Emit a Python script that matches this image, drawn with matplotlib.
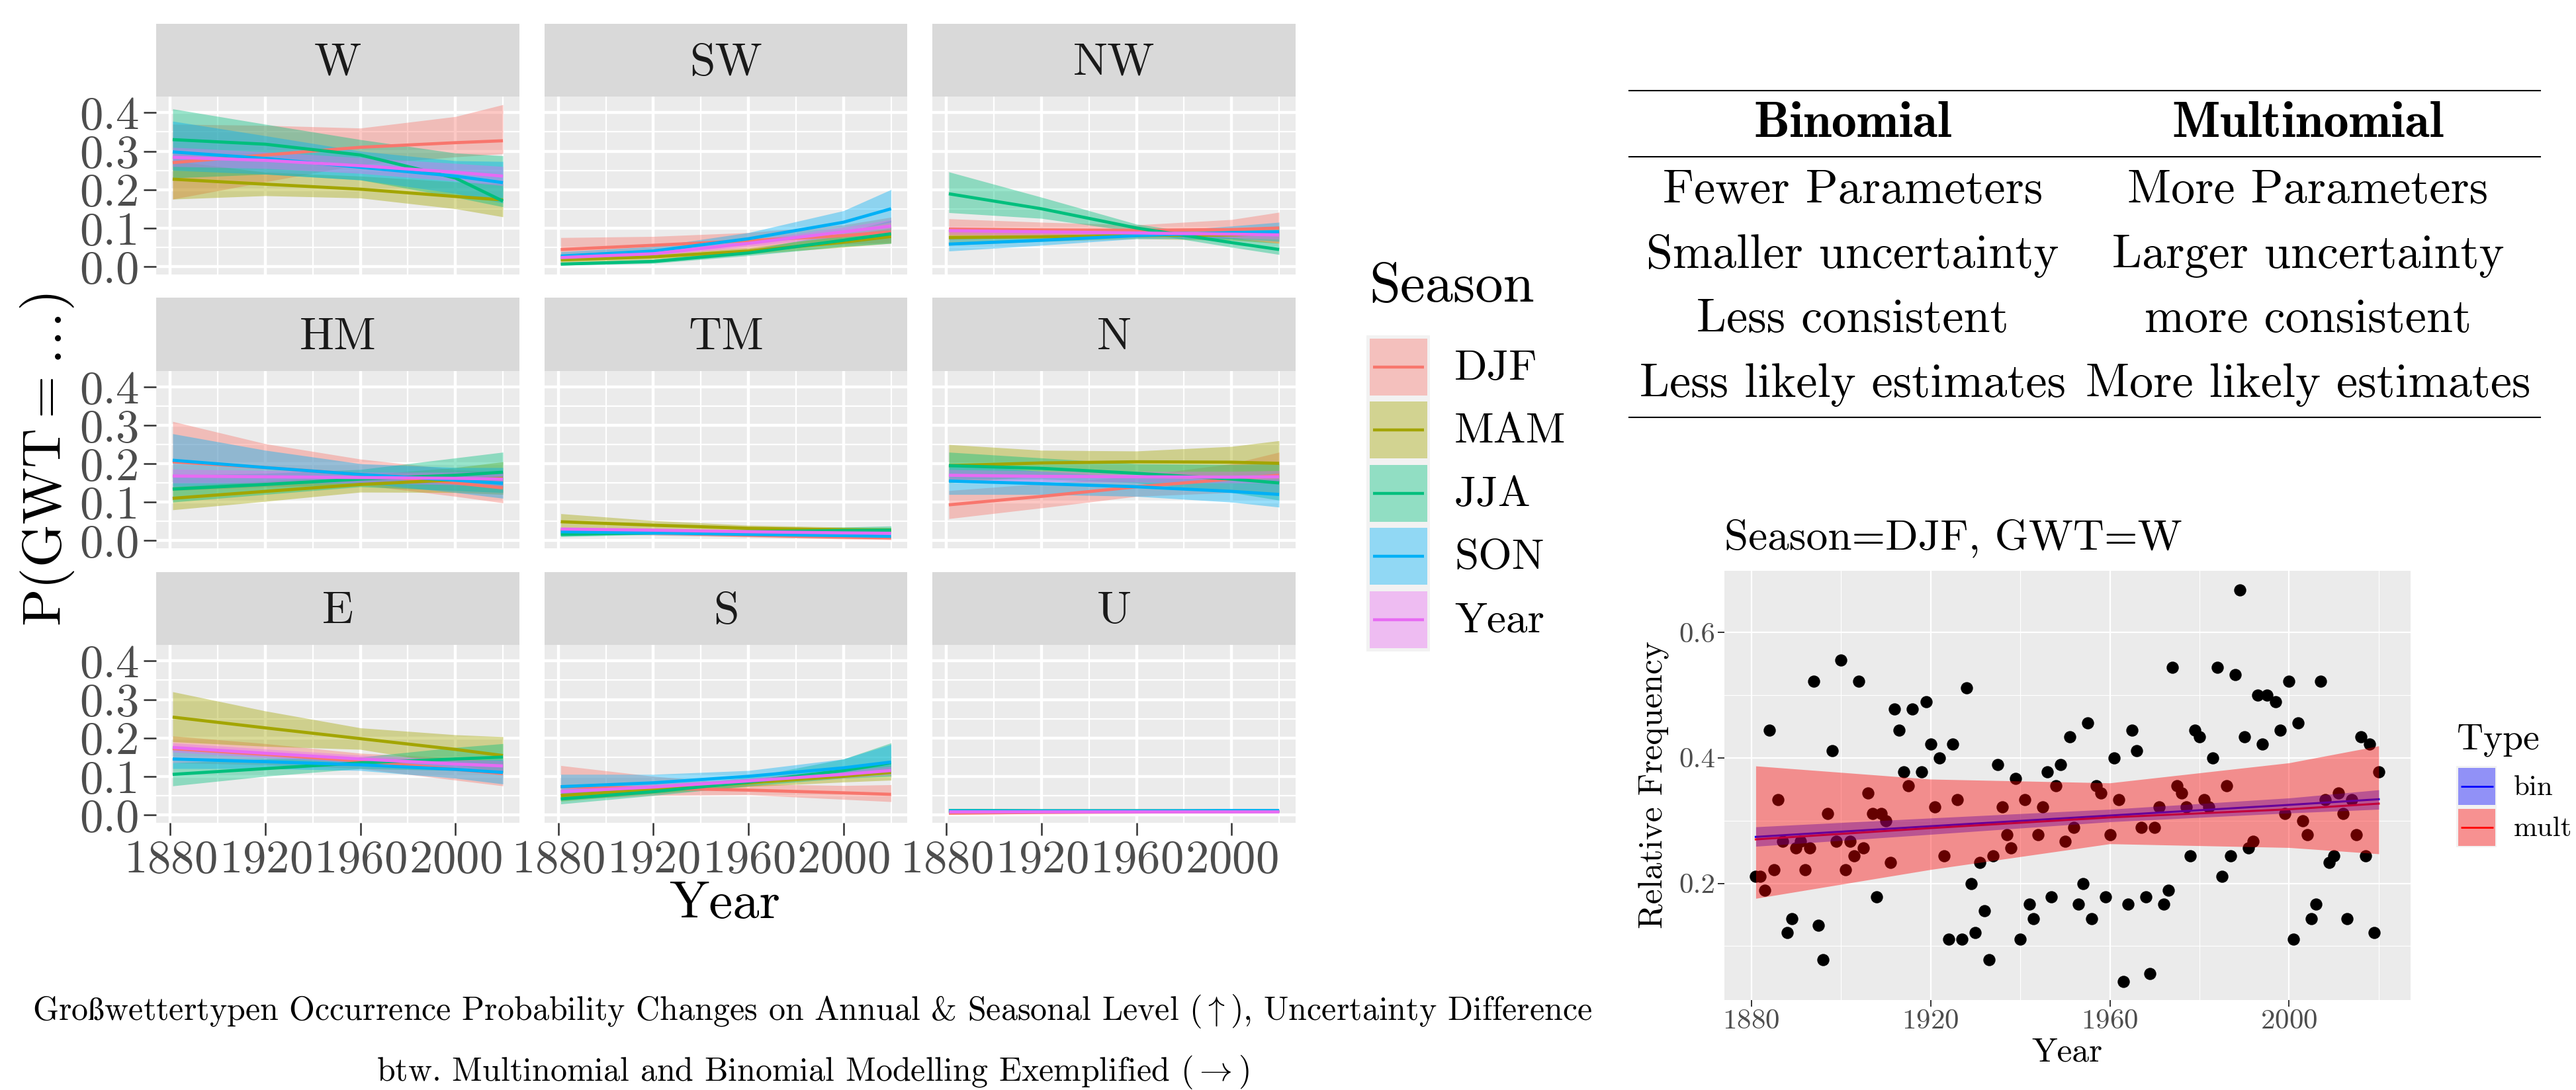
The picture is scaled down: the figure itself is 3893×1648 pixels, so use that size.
import matplotlib.pyplot as plt
import matplotlib.colors as mcolors
from matplotlib.patches import Rectangle
from matplotlib.ticker import FormatStrFormatter

plt.rcParams['font.family'] = ['cmr10', 'DejaVu Serif']
plt.rcParams['mathtext.fontset'] = 'cm'
plt.rcParams['axes.formatter.use_mathtext'] = True

W_PX, H_PX = 3893, 1648

# ---- facet data: fitted probability + ribbon at a few years, per season ----
seasons = ['DJF', 'MAM', 'JJA', 'SON', 'Year']
season_colors = ['#F8766D', '#A3A500', '#00BF7D', '#00B0F6', '#E76BF3']
gwt_names = ['W', 'SW', 'NW', 'HM', 'TM', 'N', 'E', 'S', 'U']
fit_years = [1881, 1920, 1960, 2000, 2020]

W_fit = [[0.270, 0.290, 0.310, 0.322, 0.327], [0.227, 0.214, 0.201, 0.182, 0.173],
         [0.330, 0.318, 0.290, 0.230, 0.170], [0.298, 0.281, 0.258, 0.235, 0.218],
         [0.284, 0.276, 0.262, 0.245, 0.235]]
W_lo = [[0.175, 0.220, 0.265, 0.285, 0.293], [0.175, 0.184, 0.178, 0.150, 0.129],
        [0.230, 0.240, 0.225, 0.180, 0.155], [0.250, 0.240, 0.225, 0.190, 0.165],
        [0.260, 0.255, 0.242, 0.222, 0.210]]
W_hi = [[0.370, 0.367, 0.360, 0.390, 0.421], [0.275, 0.245, 0.235, 0.220, 0.215],
        [0.410, 0.370, 0.330, 0.295, 0.288], [0.378, 0.340, 0.300, 0.275, 0.273],
        [0.310, 0.298, 0.283, 0.268, 0.260]]

SW_fit = [[0.044, 0.055, 0.067, 0.080, 0.090], [0.017, 0.025, 0.040, 0.063, 0.078],
          [0.006, 0.013, 0.035, 0.068, 0.085], [0.027, 0.040, 0.072, 0.115, 0.150],
          [0.023, 0.033, 0.060, 0.090, 0.105]]
SW_lo = [[0.020, 0.032, 0.046, 0.058, 0.062], [0.010, 0.018, 0.032, 0.050, 0.060],
         [0.003, 0.008, 0.028, 0.052, 0.060], [0.017, 0.030, 0.060, 0.092, 0.115],
         [0.017, 0.027, 0.052, 0.078, 0.090]]
SW_hi = [[0.075, 0.078, 0.088, 0.108, 0.128], [0.025, 0.032, 0.048, 0.080, 0.100],
         [0.010, 0.018, 0.043, 0.088, 0.120], [0.038, 0.052, 0.088, 0.145, 0.200],
         [0.030, 0.040, 0.068, 0.102, 0.122]]

NW_fit = [[0.097, 0.095, 0.094, 0.096, 0.100], [0.075, 0.077, 0.080, 0.082, 0.085],
          [0.189, 0.150, 0.100, 0.062, 0.044], [0.058, 0.068, 0.080, 0.088, 0.090],
          [0.093, 0.090, 0.087, 0.084, 0.082]]
NW_lo = [[0.070, 0.078, 0.082, 0.072, 0.060], [0.055, 0.065, 0.072, 0.068, 0.060],
         [0.140, 0.125, 0.090, 0.050, 0.031], [0.040, 0.055, 0.072, 0.072, 0.065],
         [0.083, 0.082, 0.080, 0.075, 0.071]]
NW_hi = [[0.124, 0.115, 0.108, 0.122, 0.141], [0.095, 0.090, 0.088, 0.095, 0.105],
         [0.246, 0.180, 0.110, 0.075, 0.060], [0.075, 0.080, 0.088, 0.105, 0.115],
         [0.103, 0.098, 0.094, 0.093, 0.093]]

HM_fit = [[0.205, 0.190, 0.172, 0.150, 0.137], [0.110, 0.128, 0.146, 0.158, 0.162],
          [0.134, 0.146, 0.160, 0.170, 0.178], [0.209, 0.190, 0.172, 0.157, 0.149],
          [0.168, 0.166, 0.164, 0.162, 0.160]]
HM_lo = [[0.130, 0.140, 0.145, 0.115, 0.098], [0.080, 0.102, 0.126, 0.125, 0.120],
         [0.100, 0.120, 0.140, 0.130, 0.125], [0.140, 0.148, 0.150, 0.125, 0.110],
         [0.150, 0.150, 0.150, 0.145, 0.140]]
HM_hi = [[0.310, 0.252, 0.212, 0.185, 0.178], [0.140, 0.155, 0.170, 0.190, 0.205],
         [0.170, 0.175, 0.185, 0.215, 0.230], [0.278, 0.235, 0.200, 0.190, 0.190],
         [0.186, 0.182, 0.178, 0.178, 0.180]]

TM_fit = [[0.026, 0.020, 0.014, 0.009, 0.007], [0.049, 0.040, 0.032, 0.028, 0.027],
          [0.016, 0.020, 0.023, 0.026, 0.027], [0.023, 0.020, 0.016, 0.013, 0.011],
          [0.030, 0.027, 0.023, 0.020, 0.019]]
TM_lo = [[0.019, 0.014, 0.009, 0.004, 0.002], [0.032, 0.030, 0.026, 0.022, 0.020],
         [0.010, 0.016, 0.019, 0.019, 0.018], [0.017, 0.015, 0.012, 0.008, 0.005],
         [0.026, 0.024, 0.020, 0.016, 0.014]]
TM_hi = [[0.034, 0.027, 0.020, 0.015, 0.013], [0.070, 0.052, 0.040, 0.035, 0.034],
         [0.022, 0.025, 0.030, 0.035, 0.038], [0.029, 0.025, 0.021, 0.019, 0.018],
         [0.034, 0.030, 0.026, 0.024, 0.024]]

N_fit = [[0.093, 0.115, 0.140, 0.160, 0.170], [0.195, 0.202, 0.205, 0.204, 0.201],
         [0.195, 0.188, 0.175, 0.160, 0.150], [0.155, 0.148, 0.140, 0.128, 0.120],
         [0.170, 0.167, 0.166, 0.165, 0.166]]
N_lo = [[0.057, 0.085, 0.115, 0.125, 0.125], [0.150, 0.168, 0.172, 0.160, 0.150],
        [0.160, 0.160, 0.150, 0.125, 0.105], [0.120, 0.120, 0.115, 0.100, 0.087],
        [0.155, 0.153, 0.152, 0.150, 0.150]]
N_hi = [[0.130, 0.148, 0.168, 0.200, 0.230], [0.250, 0.235, 0.233, 0.245, 0.260],
        [0.230, 0.215, 0.200, 0.198, 0.200], [0.200, 0.180, 0.165, 0.158, 0.160],
        [0.185, 0.181, 0.180, 0.180, 0.182]]

E_fit = [[0.172, 0.157, 0.140, 0.118, 0.107], [0.254, 0.226, 0.198, 0.170, 0.154],
         [0.105, 0.120, 0.135, 0.145, 0.150], [0.145, 0.138, 0.130, 0.118, 0.110],
         [0.175, 0.160, 0.145, 0.132, 0.127]]
E_lo = [[0.135, 0.130, 0.120, 0.090, 0.075], [0.190, 0.178, 0.170, 0.130, 0.110],
        [0.075, 0.100, 0.120, 0.115, 0.110], [0.120, 0.120, 0.115, 0.095, 0.080],
        [0.163, 0.149, 0.135, 0.120, 0.113]]
E_hi = [[0.205, 0.185, 0.160, 0.148, 0.140], [0.320, 0.270, 0.226, 0.208, 0.203],
        [0.135, 0.145, 0.150, 0.175, 0.185], [0.170, 0.158, 0.148, 0.140, 0.145],
        [0.187, 0.171, 0.155, 0.144, 0.141]]

S_fit = [[0.073, 0.069, 0.064, 0.057, 0.053], [0.050, 0.066, 0.083, 0.100, 0.110],
         [0.041, 0.060, 0.085, 0.115, 0.135], [0.073, 0.083, 0.100, 0.122, 0.137],
         [0.060, 0.072, 0.088, 0.105, 0.115]]
S_lo = [[0.040, 0.050, 0.052, 0.040, 0.034], [0.035, 0.055, 0.073, 0.085, 0.090],
        [0.028, 0.050, 0.075, 0.095, 0.100], [0.050, 0.070, 0.088, 0.105, 0.110],
        [0.052, 0.065, 0.081, 0.096, 0.104]]
S_hi = [[0.128, 0.100, 0.080, 0.076, 0.078], [0.066, 0.077, 0.093, 0.118, 0.130],
        [0.058, 0.072, 0.097, 0.145, 0.187], [0.105, 0.105, 0.115, 0.145, 0.183],
        [0.068, 0.079, 0.095, 0.114, 0.126]]

U_fit = [[0.004, 0.006, 0.007, 0.008, 0.009], [0.011, 0.010, 0.010, 0.010, 0.010],
         [0.011, 0.010, 0.010, 0.009, 0.009], [0.010, 0.010, 0.010, 0.011, 0.011],
         [0.009, 0.009, 0.009, 0.009, 0.009]]
U_lo = [[0.001, 0.003, 0.005, 0.006, 0.006], [0.008, 0.008, 0.008, 0.008, 0.007],
        [0.008, 0.008, 0.008, 0.007, 0.006], [0.007, 0.008, 0.008, 0.009, 0.008],
        [0.007, 0.008, 0.008, 0.008, 0.007]]
U_hi = [[0.008, 0.009, 0.010, 0.011, 0.012], [0.014, 0.013, 0.012, 0.012, 0.013],
        [0.014, 0.012, 0.012, 0.011, 0.012], [0.013, 0.012, 0.012, 0.013, 0.014],
        [0.011, 0.010, 0.010, 0.010, 0.011]]

panels = [(W_fit, W_lo, W_hi), (SW_fit, SW_lo, SW_hi), (NW_fit, NW_lo, NW_hi),
          (HM_fit, HM_lo, HM_hi), (TM_fit, TM_lo, TM_hi), (N_fit, N_lo, N_hi),
          (E_fit, E_lo, E_hi), (S_fit, S_lo, S_hi), (U_fit, U_lo, U_hi)]

# ---- table ----
table_header = ['Binomial', 'Multinomial']
binomial_rows = ['Fewer Parameters', 'Smaller uncertainty', 'Less consistent', 'Less likely estimates']
multinomial_rows = ['More Parameters', 'Larger uncertainty', 'more consistent', 'More likely estimates']

# ---- DJF / W example: yearly relative frequencies and the two fits ----
djf_years = [1881, 1882, 1883, 1884, 1885, 1886, 1887, 1888, 1889, 1890, 1891, 1892, 1893, 1894,
             1895, 1896, 1897, 1898, 1899, 1900, 1901, 1902, 1903, 1904, 1905, 1906, 1907, 1908,
             1909, 1910, 1911, 1912, 1913, 1914, 1915, 1916, 1918, 1919, 1920, 1921, 1922, 1923,
             1924, 1925, 1926, 1927, 1928, 1929, 1930, 1931, 1932, 1933, 1934, 1935, 1936, 1937,
             1938, 1939, 1940, 1941, 1942, 1943, 1944, 1945, 1946, 1947, 1948, 1949, 1950, 1951,
             1952, 1953, 1954, 1955, 1956, 1957, 1958, 1959, 1960, 1961, 1962, 1963, 1964, 1965,
             1966, 1967, 1968, 1969, 1970, 1971, 1972, 1973, 1974, 1975, 1976, 1977, 1978, 1979,
             1980, 1981, 1982, 1983, 1984, 1985, 1986, 1987, 1988, 1989, 1990, 1991, 1992, 1993,
             1994, 1995, 1997, 1998, 1999, 2000, 2001, 2002, 2003, 2004, 2005, 2006, 2007, 2008,
             2009, 2010, 2011, 2012, 2013, 2014, 2015, 2016, 2017, 2018, 2019, 2020]
djf_freq = [0.211, 0.211, 0.189, 0.444, 0.222, 0.333, 0.267, 0.122, 0.144, 0.256, 0.267, 0.222, 0.256, 0.522,
            0.133, 0.078, 0.311, 0.411, 0.267, 0.556, 0.222, 0.267, 0.244, 0.522, 0.256, 0.344, 0.311, 0.178,
            0.311, 0.300, 0.233, 0.478, 0.444, 0.378, 0.356, 0.478, 0.378, 0.489, 0.422, 0.322, 0.400, 0.244,
            0.111, 0.422, 0.333, 0.111, 0.511, 0.200, 0.122, 0.233, 0.156, 0.078, 0.244, 0.389, 0.322, 0.278,
            0.256, 0.367, 0.111, 0.333, 0.167, 0.144, 0.278, 0.322, 0.378, 0.178, 0.356, 0.389, 0.267, 0.433,
            0.289, 0.167, 0.200, 0.456, 0.144, 0.356, 0.344, 0.178, 0.278, 0.400, 0.333, 0.044, 0.167, 0.444,
            0.411, 0.289, 0.178, 0.056, 0.289, 0.322, 0.167, 0.189, 0.544, 0.356, 0.344, 0.322, 0.244, 0.444,
            0.433, 0.333, 0.322, 0.400, 0.544, 0.211, 0.356, 0.244, 0.533, 0.667, 0.433, 0.256, 0.267, 0.500,
            0.422, 0.500, 0.489, 0.444, 0.311, 0.522, 0.111, 0.456, 0.300, 0.278, 0.144, 0.167, 0.522, 0.333,
            0.233, 0.244, 0.344, 0.311, 0.144, 0.333, 0.278, 0.433, 0.244, 0.422, 0.122, 0.378]
type_names = ['bin', 'mult']
type_colors = ['#0000FF', '#FF0000']
bin_fit = [0.274, 0.291, 0.308, 0.325, 0.334]
bin_lo = [0.259, 0.278, 0.298, 0.312, 0.318]
bin_hi = [0.290, 0.304, 0.318, 0.336, 0.349]
mult_fit = [0.270, 0.288, 0.305, 0.318, 0.327]
mult_lo = [0.176, 0.222, 0.263, 0.257, 0.247]
mult_hi = [0.387, 0.366, 0.360, 0.392, 0.419]

caption_lines = [r'Gro$\mathrm{\ss}$wettertypen Occurrence Probability Changes on Annual & Seasonal Level ($\uparrow$), Uncertainty Difference',
                 r'btw. Multinomial and Binomial Modelling Exemplified ($\rightarrow$)']
caption_fallback = 'Großwettertypen Occurrence Probability Changes on Annual & Seasonal Level (↑), Uncertainty Difference'


def px_axes(fig, left, top, width, height):
    return fig.add_axes([left / W_PX, 1 - (top + height) / H_PX, width / W_PX, height / H_PX])


def fx(x):
    return x / W_PX


def fy(y):
    return 1 - y / H_PX


def on_grey95(color, alpha=0.4):
    r, g, b = mcolors.to_rgb(color)
    bg = 242 / 255
    return (alpha * r + (1 - alpha) * bg, alpha * g + (1 - alpha) * bg, alpha * b + (1 - alpha) * bg)


fig = plt.figure(figsize=(W_PX / 100, H_PX / 100), dpi=100)

# ---- 3x3 facet grid ----
left0, col_dx, panel_w = 236, 586.5, 549
top0, row_dy, strip_h, plot_h = 36, 414.5, 110, 269

for i, (name, (fit, lo, hi)) in enumerate(zip(gwt_names, panels)):
    r, c = divmod(i, 3)
    x0 = left0 + c * col_dx
    y0 = top0 + r * row_dy
    sax = px_axes(fig, x0, y0, panel_w, strip_h)
    sax.set_facecolor('#D9D9D9')
    sax.set_xticks([])
    sax.set_yticks([])
    for sp in sax.spines.values():
        sp.set_visible(False)
    sax.text(0.5, 0.30, name, transform=sax.transAxes, ha='center', va='baseline',
             fontsize=50, color='#1A1A1A')

    ax = px_axes(fig, x0, y0 + strip_h, panel_w, plot_h)
    ax.set_facecolor('#EBEBEB')
    for sp in ax.spines.values():
        sp.set_visible(False)
    for k, col in enumerate(season_colors):
        ax.fill_between(fit_years, lo[k], hi[k], color=col, alpha=0.4, lw=0)
        ax.plot(fit_years, fit[k], color=col, lw=3.4, solid_capstyle='butt')
    ax.set_xlim(1874.05, 2026.95)
    ax.set_ylim(-0.021, 0.442)
    ax.set_xticks([1880, 1920, 1960, 2000])
    ax.set_xticks([1900, 1940, 1980, 2020], minor=True)
    ax.set_yticks([0.0, 0.1, 0.2, 0.3, 0.4])
    ax.set_yticks([0.05, 0.15, 0.25, 0.35], minor=True)
    ax.yaxis.set_major_formatter(FormatStrFormatter('%.1f'))
    ax.grid(which='major', color='white', lw=3.2)
    ax.grid(which='minor', color='white', lw=1.6)
    ax.set_axisbelow(True)
    ax.tick_params(which='minor', length=0)
    ax.tick_params(which='major', length=13.5, width=1.8, color='#333333',
                   labelcolor='#4D4D4D', labelsize=51, pad=5)
    if c != 0:
        ax.tick_params(axis='y', length=0, labelleft=False)
    if r != 2:
        ax.tick_params(axis='x', length=0, labelbottom=False)

fig.text(fx(1095), fy(1368), 'Year', ha='center', va='center', fontsize=58)
fig.text(fx(72), fy(695), r'P(GWT$=\ldots$)', ha='center', va='center', rotation=90, fontsize=60)

# overlay in pixel coordinates for legends and table
ov = fig.add_axes([0, 0, 1, 1], zorder=10)
ov.set_xlim(0, W_PX)
ov.set_ylim(H_PX, 0)
ov.axis('off')

# season legend
ov.text(2069, 435, 'Season', ha='left', va='center', fontsize=61)
key_top, key_step = 512, 95.4
ov.add_patch(Rectangle((2065, key_top - 5), 96, key_step * len(seasons) + 1, color='#F2F2F2', lw=0))
for k, (lab, col) in enumerate(zip(seasons, season_colors)):
    ty = key_top + k * key_step
    ov.add_patch(Rectangle((2070, ty), 87, 86, color=on_grey95(col), lw=0))
    ov.plot([2075, 2152], [ty + 43, ty + 43], color=col, lw=3.2, solid_capstyle='butt')
    ov.text(2198, ty + 62, lab, ha='left', va='baseline', fontsize=47)

# ---- comparison table ----
for yl in (137, 237, 631):
    ov.plot([2462, 3839], [yl, yl], color='black', lw=1.5)
col_centers = [2800, 3488]
for cx, head in zip(col_centers, table_header):
    ov.text(cx, 207, head, ha='center', va='baseline', fontsize=55, family=['cmb10', 'DejaVu Serif'])
for j, (lt, rt) in enumerate(zip(binomial_rows, multinomial_rows)):
    yb = 307 + j * 97.7
    ov.text(col_centers[0], yb, lt, ha='center', va='baseline', fontsize=52)
    ov.text(col_centers[1], yb, rt, ha='center', va='baseline', fontsize=52)

# ---- DJF / W scatter with the two fits ----
dax = px_axes(fig, 2606, 863, 1037, 649)
dax.set_facecolor('#EBEBEB')
for sp in dax.spines.values():
    sp.set_visible(False)
dax.scatter(djf_years, djf_freq, s=175, color='black', lw=0, zorder=2)
dax.plot(fit_years, bin_fit, color=type_colors[0], lw=2.2, zorder=3)
dax.plot(fit_years, mult_fit, color=type_colors[1], lw=2.2, zorder=3)
dax.fill_between(fit_years, bin_lo, bin_hi, color=type_colors[0], alpha=0.4, lw=0, zorder=4)
dax.fill_between(fit_years, mult_lo, mult_hi, color=type_colors[1], alpha=0.4, lw=0, zorder=5)
dax.set_xlim(1874, 2027.1)
dax.set_ylim(0.014, 0.698)
dax.set_xticks([1880, 1920, 1960, 2000])
dax.set_xticks([1900, 1940, 1980, 2020], minor=True)
dax.set_yticks([0.2, 0.4, 0.6])
dax.set_yticks([0.1, 0.3, 0.5], minor=True)
dax.yaxis.set_major_formatter(FormatStrFormatter('%.1f'))
dax.grid(which='major', color='white', lw=1.6)
dax.grid(which='minor', color='white', lw=0.8)
dax.set_axisbelow(True)
dax.tick_params(which='minor', length=0)
dax.tick_params(which='major', length=7, width=1.4, color='#333333',
                labelcolor='#4D4D4D', labelsize=31, pad=3)

fig.text(fx(2606), fy(830), 'Season=DJF, GWT=W', ha='left', va='baseline', fontsize=47)
fig.text(fx(2500), fy(1187), 'Relative Frequency', ha='center', va='center', rotation=90, fontsize=37)
fig.text(fx(3124), fy(1592), 'Year', ha='center', va='center', fontsize=37)

# type legend
ov.text(3713, 1132, 'Type', ha='left', va='baseline', fontsize=40)
ov.add_patch(Rectangle((3712, 1158), 61, 123, color='#F2F2F2', lw=0))
for k, (lab, col) in enumerate(zip(type_names, type_colors)):
    ty = 1161 + k * 62
    ov.add_patch(Rectangle((3715, ty), 56, 56, color=on_grey95(col), lw=0))
    ov.plot([3719, 3768], [ty + 28, ty + 28], color=col, lw=2.0, solid_capstyle='butt')
    ov.text(3799, ty + 41, lab, ha='left', va='baseline', fontsize=31)

# ---- caption ----
cap1 = fig.text(fx(1228), fy(1542), caption_lines[0], ha='center', va='baseline', fontsize=36)
fig.text(fx(1228), fy(1634), caption_lines[1], ha='center', va='baseline', fontsize=36)
try:
    fig.canvas.draw()
except Exception:
    cap1.set_text(caption_fallback.replace('(↑)', r'($\uparrow$)'))

fig.savefig('out.png', dpi=100)
